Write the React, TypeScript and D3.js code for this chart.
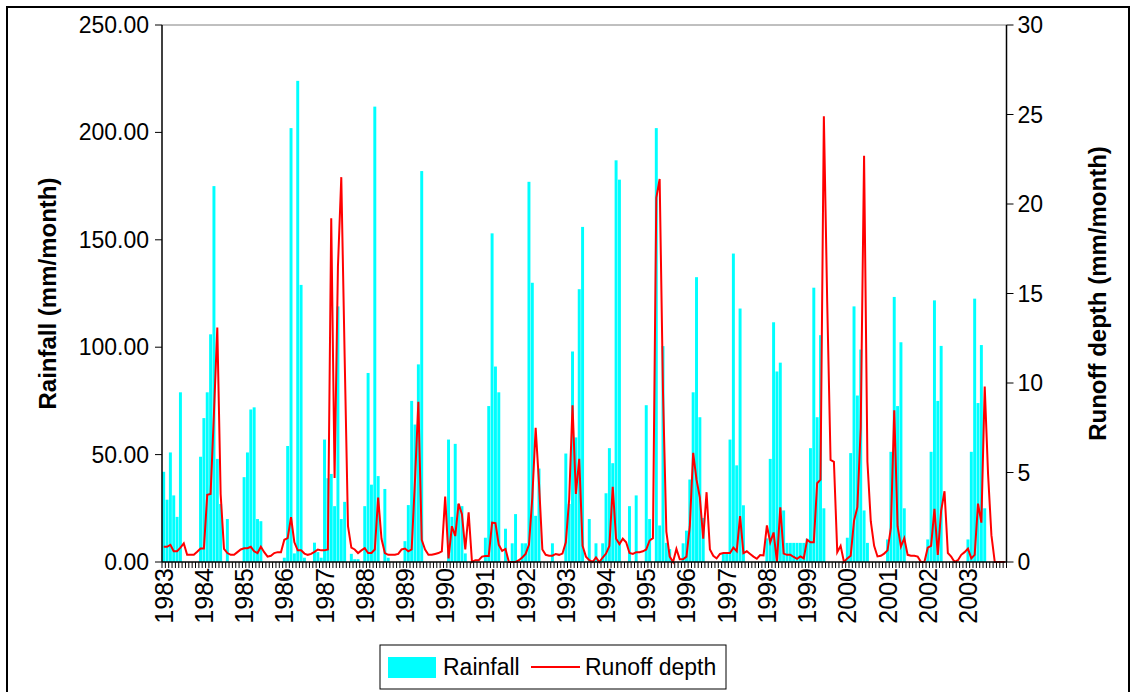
import React from "react";
import * as d3 from "d3";

// ---------- data (monthly, Jan..Dec) ----------
const years: number[] = [1983, 1984, 1985, 1986, 1987, 1988, 1989, 1990, 1991, 1992, 1993, 1994, 1995, 1996, 1997, 1998, 1999, 2000, 2001, 2002, 2003];

const rainfall: number[][] = [
  [42, 29, 51, 31, 21, 79, 0, 0, 0, 0, 0, 49],
  [67, 79, 106, 175, 48, 27, 0, 20, 0, 0, 0, 0],
  [39.5, 51, 71, 72, 20, 19, 0, 0, 0, 0, 0, 0],
  [2, 54, 202, 4, 224, 129, 2, 0, 0, 9, 4.6, 2],
  [57, 39, 41, 26, 119, 20, 28, 0, 3.8, 1.3, 1.3, 0],
  [26, 88, 36, 212, 40, 0, 34, 2, 0, 0, 0, 0],
  [9.7, 26.5, 75, 64, 92, 182, 0, 0, 0, 0, 0, 0],
  [0, 57, 21, 55, 27, 26, 4, 0, 0, 0, 0, 0],
  [11.3, 72.6, 153, 91, 79, 0, 15.5, 0, 8.7, 22.3, 0, 8.7],
  [8.7, 177, 130, 21.5, 43.5, 0, 0, 0, 8.7, 0, 0, 0],
  [50.5, 27, 98, 58, 127, 156, 0, 20, 0, 8.7, 0, 8.7],
  [32, 53, 46, 187, 178, 0, 0, 26, 0, 31, 0, 0],
  [73, 20, 0, 202, 17, 100.5, 8.9, 6, 0, 0, 0, 8.7],
  [14.6, 38.4, 79, 132.6, 67.4, 20.5, 0, 0, 0, 0, 0, 4],
  [4, 57, 143.6, 45, 118, 26.4, 0, 0, 0, 0, 0, 0],
  [11, 48, 111.6, 88.7, 92.8, 24, 8.9, 8.9, 8.9, 8.9, 8.9, 8.9],
  [10.8, 53, 127.7, 67.4, 105.6, 25, 0, 0, 0, 0, 0, 0],
  [11.3, 50.7, 119, 77.5, 98.9, 24, 8.9, 0, 0, 0, 0, 0],
  [10.5, 51.3, 123.4, 72.6, 102.3, 25, 0, 0, 0, 0, 0, 0],
  [10.5, 51.3, 121.8, 75, 100.6, 0, 0, 0, 0, 0, 0, 0],
  [10.5, 51.3, 122.6, 74, 101, 25, 0, 0, 0, 0, 0, 0],
];

const runoff: number[][] = [
  [0.85, 0.85, 0.96, 0.6, 0.6, 0.8, 1.04, 0.4, 0.4, 0.4, 0.57, 0.75],
  [0.75, 3.75, 3.8, 8.3, 13.1, 3.8, 0.73, 0.5, 0.4, 0.4, 0.55, 0.7],
  [0.77, 0.77, 0.85, 0.6, 0.5, 0.85, 0.55, 0.3, 0.35, 0.5, 0.55, 0.55],
  [1.24, 1.33, 2.5, 1.1, 0.65, 0.65, 0.47, 0.4, 0.45, 0.57, 0.7, 0.65],
  [0.65, 0.7, 19.2, 4.7, 16.5, 21.5, 11.5, 2.0, 0.8, 0.7, 0.5, 0.65],
  [0.77, 0.5, 0.5, 0.7, 3.6, 1.3, 0.5, 0.4, 0.4, 0.4, 0.45, 0.7],
  [0.75, 0.6, 0.7, 4.6, 8.95, 1.24, 0.7, 0.4, 0.4, 0.45, 0.5, 0.6],
  [3.65, 0.2, 2.0, 1.45, 3.26, 2.67, 0.7, 2.77, 0, 0.1, 0.1, 0.3],
  [0.34, 0.34, 2.2, 2.17, 0.96, 0.62, 0.73, 0, 0, 0, 0.1, 0.25],
  [0.45, 0.96, 3.6, 7.5, 4.4, 0.7, 0.4, 0.35, 0.35, 0.45, 0.4, 0.47],
  [1.1, 3.5, 8.76, 3.8, 5.76, 0.9, 0.3, 0.1, 0, 0.25, 0, 0.25],
  [0.47, 0.9, 4.2, 1.3, 1.0, 1.3, 1.1, 0.5, 0.45, 0.55, 0.55, 0.6],
  [0.7, 1.2, 1.33, 20.35, 21.4, 9.5, 1.7, 0.3, 0, 0.73, 0.15, 0.15],
  [0.3, 2.0, 6.1, 4.6, 3.6, 1.3, 3.9, 0.7, 0.35, 0.2, 0.45, 0.5],
  [0.5, 0.5, 0.8, 0.6, 2.56, 0.5, 0.6, 0.45, 0.3, 0.18, 0.39, 0.37],
  [2.04, 1.1, 1.65, 0, 3.06, 0.47, 0.4, 0.4, 0.28, 0.18, 0.31, 0.2],
  [1.24, 1.1, 1.1, 4.4, 4.6, 24.9, 14.5, 5.7, 5.6, 0.55, 0.9, 0],
  [0.2, 0.35, 2.3, 3.06, 7.5, 22.7, 5.6, 2.28, 0.9, 0.31, 0.35, 0.47],
  [0.65, 1.9, 8.47, 2.0, 0.86, 1.33, 0.4, 0.35, 0.35, 0.3, 0, 0],
  [0.8, 0.9, 2.97, 0.4, 2.87, 3.95, 0.5, 0.3, 0, 0.1, 0.4, 0.55],
  [0.75, 0.2, 0.4, 3.26, 2.2, 9.8, 4.9, 1.5, 0, 0, 0, 0],
];

const leftTicks: number[] = [0, 50, 100, 150, 200, 250];
const rightTicks: number[] = [0, 5, 10, 15, 20, 25, 30];

const leftTitle = "Rainfall (mm/month)";
const rightTitle = "Runoff depth (mm/month)";
const legendLabels = ["Rainfall", "Runoff depth"];

// ---------- layout ----------
const W = 1133;
const H = 692;
const PL = 162;
const PR = 1006.5;
const PT = 25;
const PB = 562;
const FONT = "'Liberation Sans', Arial, sans-serif";
const CYAN = "#00FFFF";
const RED = "#FF0000";

export default function App() {
  const rain = rainfall.flat();
  const run = runoff.flat();
  const idx = d3.range(rain.length);

  const x = d3
    .scaleBand<number>()
    .domain(idx)
    .range([PL, PR])
    .paddingInner(0.12)
    .paddingOuter(0.06);
  const step = x.step();
  const cx = (i: number) => (x(i) as number) + x.bandwidth() / 2;

  const yL = d3.scaleLinear().domain([0, 250]).range([PB, PT]);
  const yR = d3.scaleLinear().domain([0, 30]).range([PB, PT]);

  const line = d3
    .line<number>()
    .x((_, i) => cx(i))
    .y((d) => yR(d));

  const boundaries = d3.range(rain.length + 1).map((i) => PL + i * step);

  return (
    <svg
      width={W}
      height={H}
      style={{ position: "absolute", left: 0, top: 0, background: "#fff" }}
      fontFamily={FONT}
    >
      <rect x={0} y={0} width={W} height={H} fill="#fff" />
      {/* outer chart frame */}
      <rect x={7} y={7} width={1122} height={700} fill="none" stroke="#000" strokeWidth={2} />

      {/* plot area top border */}
      <line x1={PL} x2={PR} y1={PT} y2={PT} stroke="#808080" strokeWidth={1} />

      {/* bars */}
      {rain.map((v, i) =>
        v > 0 ? (
          <rect
            key={"b" + i}
            x={x(i)}
            y={yL(v)}
            width={x.bandwidth()}
            height={PB - yL(v)}
            fill={CYAN}
          />
        ) : null
      )}

      {/* runoff line */}
      <path d={line(run) || ""} fill="none" stroke={RED} strokeWidth={2} strokeLinejoin="miter" />

      {/* axes */}
      <line x1={PL} x2={PL} y1={PT} y2={PB} stroke="#000" strokeWidth={1.5} />
      <line x1={PR} x2={PR} y1={PT} y2={PB} stroke="#000" strokeWidth={1.5} />
      <line x1={PL} x2={PR} y1={PB} y2={PB} stroke="#000" strokeWidth={1.5} />

      {/* x minor ticks */}
      {boundaries.map((bx, i) => (
        <line key={"t" + i} x1={bx} x2={bx} y1={PB} y2={PB + 6} stroke="#000" strokeWidth={1} />
      ))}

      {/* x labels */}
      {years.map((yr, k) => {
        const xx = cx(k * 12);
        return (
          <text
            key={"yl" + yr}
            transform={`translate(${xx},${PB + 6}) rotate(-90)`}
            textAnchor="end"
            dominantBaseline="central"
            fontSize={25}
            fill="#000"
          >
            {yr}
          </text>
        );
      })}

      {/* left ticks */}
      {leftTicks.map((t) => (
        <g key={"lt" + t}>
          <line x1={PL - 7} x2={PL} y1={yL(t)} y2={yL(t)} stroke="#000" strokeWidth={1} />
          <text x={PL - 13} y={yL(t)} textAnchor="end" dominantBaseline="central" fontSize={23} fill="#000">
            {t.toFixed(2)}
          </text>
        </g>
      ))}

      {/* right ticks */}
      {rightTicks.map((t) => (
        <g key={"rt" + t}>
          <line x1={PR} x2={PR + 7} y1={yR(t)} y2={yR(t)} stroke="#000" strokeWidth={1} />
          <text x={PR + 11} y={yR(t)} textAnchor="start" dominantBaseline="central" fontSize={23} fill="#000">
            {t}
          </text>
        </g>
      ))}

      {/* axis titles */}
      <text
        transform={`translate(47,${(PT + PB) / 2}) rotate(-90)`}
        textAnchor="middle"
        dominantBaseline="central"
        fontSize={24}
        fontWeight="bold"
        fill="#000"
      >
        {leftTitle}
      </text>
      <text
        transform={`translate(1097,${(PT + PB) / 2}) rotate(-90)`}
        textAnchor="middle"
        dominantBaseline="central"
        fontSize={24}
        fontWeight="bold"
        fill="#000"
      >
        {rightTitle}
      </text>

      {/* legend */}
      <rect x={380} y={645} width={346} height={44} fill="#fff" stroke="#000" strokeWidth={1} />
      <rect x={388} y={657} width={48} height={21} fill={CYAN} />
      <text x={443} y={667} dominantBaseline="central" fontSize={23} fill="#000">
        {legendLabels[0]}
      </text>
      <line x1={531} x2={580} y1={667} y2={667} stroke={RED} strokeWidth={2} />
      <text x={585} y={667} dominantBaseline="central" fontSize={23} fill="#000">
        {legendLabels[1]}
      </text>
    </svg>
  );
}
